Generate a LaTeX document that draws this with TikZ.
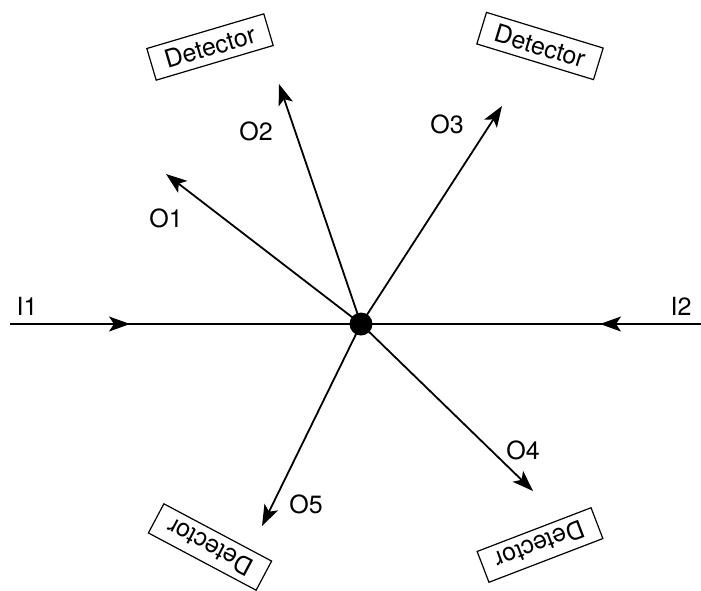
\documentclass[tikz,border=0pt]{standalone}
\usepackage{fontspec}
\setmainfont{TeX Gyre Heros}
\usetikzlibrary{arrows.meta}
\begin{document}
\begin{tikzpicture}[x=1pt,y=-1pt,
  ray/.style={line width=1.8pt},
  arr/.style={line width=1.8pt,-{Stealth[length=21pt,width=15pt,inset=5pt]}},
  lbl/.style={font=\fontsize{25}{28}\selectfont},
  det/.style={draw,line width=1.2pt,font=\fontsize{25}{28}\selectfont,minimum width=122pt,minimum height=33pt,inner sep=0pt}]
\useasboundingbox (0,0) rectangle (701,590);
% points
\coordinate (c) at (361,324);
\coordinate (i1s) at (10,324);
\coordinate (i1t) at (130,324);
\coordinate (i2s) at (701,324);
\coordinate (i2t) at (600,324);
\coordinate (o1) at (166,174);
\coordinate (o2) at (279,84);
\coordinate (o3) at (502,106);
\coordinate (o4) at (533,491);
\coordinate (o5) at (262,526);
% incoming lines
\draw[ray] (i1s) -- (c);
\draw[ray] (i2s) -- (c);
\draw[arr] (i1s) -- (i1t);
\draw[arr] (i2s) -- (i2t);
% outgoing arrows
\draw[arr] (c) -- (o1);
\draw[arr] (c) -- (o2);
\draw[arr] (c) -- (o3);
\draw[arr] (c) -- (o4);
\draw[arr] (c) -- (o5);
% center dot
\fill (c) circle (11.5pt);
% labels
\node[lbl] (li1) at (27,306) {I1};
\node[lbl] (li2) at (681,306) {I2};
\node[lbl] (lo1) at (166,218) {O1};
\node[lbl] (lo2) at (256,131) {O2};
\node[lbl] (lo3) at (447,124) {O3};
\node[lbl] (lo4) at (523,450) {O4};
\node[lbl] (lo5) at (306,504) {O5};
% detectors
\node[det,rotate=16.5] (d1) at (210,47) {Detector};
\node[det,rotate=-17] (d2) at (540,46) {Detector};
\node[det,rotate=152] (d3) at (210,547) {Detector};
\node[det,rotate=201] (d4) at (540,545) {Detector};
\end{tikzpicture}
\end{document}
